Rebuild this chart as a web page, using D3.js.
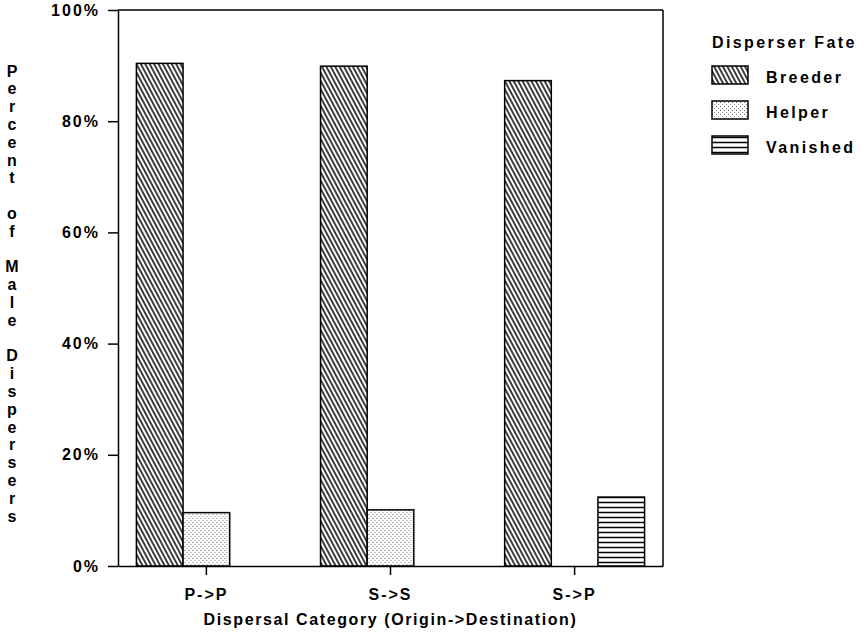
<!DOCTYPE html>
<html>
<head>
<meta charset="utf-8">
<script src="https://cdn.jsdelivr.net/npm/d3@7"></script>
<style>
  body { margin: 0; background: #fff; }
  text { font-family: "Liberation Sans", Arial, Helvetica, sans-serif; font-weight: bold; fill: #000; }
</style>
</head>
<body>
<div id="chart"></div>
<script>
// values (percent of male dispersers)
var categories = ["P->P", "S->S", "S->P"];
var fates = ["Breeder", "Helper", "Vanished"];
var breeder = [90.4, 89.9, 87.3];
var helper = [9.6, 10.1, 0];
var vanished = [0, 0, 12.4];
var yTicks = [0, 20, 40, 60, 80, 100];

var width = 868, height = 635;
var margin = {top: 10, right: 205, bottom: 69, left: 118};
var w = width - margin.left - margin.right;
var h = height - margin.top - margin.bottom;

var svg = d3.select("#chart").append("svg")
    .attr("width", width)
    .attr("height", height);

// hatch patterns
var defs = svg.append("defs");

var pBreeder = defs.append("pattern")
    .attr("id", "pat-breeder")
    .attr("patternUnits", "userSpaceOnUse")
    .attr("width", 3.9)
    .attr("height", 10)
    .attr("patternTransform", "rotate(-28)");
pBreeder.append("rect").attr("width", 3.9).attr("height", 10).attr("fill", "#fff");
pBreeder.append("line")
    .attr("x1", 1.95).attr("y1", -1).attr("x2", 1.95).attr("y2", 11)
    .attr("stroke", "#000").attr("stroke-width", 1.5);

var pHelper = defs.append("pattern")
    .attr("id", "pat-helper")
    .attr("patternUnits", "userSpaceOnUse")
    .attr("width", 4)
    .attr("height", 4);
pHelper.append("rect").attr("width", 4).attr("height", 4).attr("fill", "#fff");
pHelper.append("rect").attr("x", 0).attr("y", 0).attr("width", 1).attr("height", 1).attr("fill", "#666");
pHelper.append("rect").attr("x", 2).attr("y", 2).attr("width", 1).attr("height", 1).attr("fill", "#888");

var pVanished = defs.append("pattern")
    .attr("id", "pat-vanished")
    .attr("patternUnits", "userSpaceOnUse")
    .attr("width", 10)
    .attr("height", 5);
pVanished.append("rect").attr("width", 10).attr("height", 5).attr("fill", "#fff");
pVanished.append("line")
    .attr("x1", -1).attr("y1", 2.5).attr("x2", 11).attr("y2", 2.5)
    .attr("stroke", "#000").attr("stroke-width", 1.5);

var fill = d3.scaleOrdinal()
    .domain(fates)
    .range(["url(#pat-breeder)", "url(#pat-helper)", "url(#pat-vanished)"]);

var g = svg.append("g")
    .attr("transform", "translate(" + margin.left + "," + margin.top + ")");

var x0 = d3.scaleBand()
    .domain(categories)
    .range([0, w])
    .paddingInner(0.24)
    .paddingOuter(0.1);

var x1 = d3.scaleBand()
    .domain(fates)
    .range([0, x0.bandwidth()]);

var y = d3.scaleLinear()
    .domain([0, 100])
    .range([h, 0]);

// rows for grouped bars
var rows = categories.map(function(c, i) {
    return {cat: c, values: [
        {fate: "Breeder", v: breeder[i]},
        {fate: "Helper", v: helper[i]},
        {fate: "Vanished", v: vanished[i]}
    ]};
});

// frame: top and right sides
g.append("line")
    .attr("x1", 0).attr("x2", w).attr("y1", 0).attr("y2", 0)
    .attr("stroke", "#000").attr("stroke-width", 1.5);
g.append("line")
    .attr("x1", w).attr("x2", w).attr("y1", 0).attr("y2", h)
    .attr("stroke", "#000").attr("stroke-width", 1.5);

// bars
var groups = g.selectAll(".grp")
    .data(rows)
    .enter().append("g")
    .attr("class", "grp")
    .attr("transform", function(d) { return "translate(" + x0(d.cat) + ",0)"; });

groups.selectAll("rect")
    .data(function(d) { return d.values.filter(function(o) { return o.v > 0; }); })
    .enter().append("rect")
    .attr("x", function(d) { return x1(d.fate); })
    .attr("y", function(d) { return y(d.v); })
    .attr("width", x1.bandwidth())
    .attr("height", function(d) { return h - y(d.v); })
    .attr("fill", function(d) { return fill(d.fate); })
    .attr("stroke", "#000")
    .attr("stroke-width", 1.5);

// axes
var yAxis = g.append("g")
    .call(d3.axisLeft(y)
        .tickValues(yTicks)
        .tickFormat(function(d) { return d + "%"; })
        .tickSize(10)
        .tickSizeOuter(0)
        .tickPadding(8));

var xAxis = g.append("g")
    .attr("transform", "translate(0," + h + ")")
    .call(d3.axisBottom(x0)
        .tickSize(9)
        .tickSizeOuter(0)
        .tickPadding(14));

[yAxis, xAxis].forEach(function(a) {
    a.select(".domain").attr("stroke", "#000").attr("stroke-width", 1.5);
    a.selectAll(".tick line").attr("stroke", "#000").attr("stroke-width", 1.5);
    a.selectAll(".tick text")
        .style("font-family", "'Liberation Sans', Arial, sans-serif")
        .style("font-weight", "bold")
        .style("font-size", "16px")
        .style("letter-spacing", "2px")
        .attr("fill", "#000");
});

// x axis title
g.append("text")
    .attr("x", w / 2)
    .attr("y", h + 59)
    .attr("text-anchor", "middle")
    .style("font-size", "16px")
    .style("letter-spacing", "1.6px")
    .text("Dispersal Category (Origin->Destination)");

// y axis title, one letter per line
var yTitle = "Percent of Male Dispersers".split("");
svg.append("g").selectAll("text")
    .data(yTitle)
    .enter().append("text")
    .attr("x", 12)
    .attr("y", function(d, i) { return 71 + i * 17.8; })
    .attr("text-anchor", "middle")
    .attr("dominant-baseline", "central")
    .style("font-size", "16px")
    .text(function(d) { return d; });

// legend
var legend = svg.append("g")
    .attr("transform", "translate(712,42)");

legend.append("text")
    .attr("x", 0)
    .attr("y", 0)
    .attr("dominant-baseline", "central")
    .style("font-size", "16px")
    .style("letter-spacing", "2.4px")
    .text("Disperser Fate");

var item = legend.selectAll(".item")
    .data(fates)
    .enter().append("g")
    .attr("class", "item")
    .attr("transform", function(d, i) { return "translate(0," + (33 + i * 35) + ")"; });

item.append("rect")
    .attr("x", 0)
    .attr("y", -9)
    .attr("width", 36)
    .attr("height", 18)
    .attr("fill", function(d) { return fill(d); })
    .attr("stroke", "#000")
    .attr("stroke-width", 1.5);

item.append("text")
    .attr("x", 54)
    .attr("y", 2)
    .attr("dominant-baseline", "central")
    .style("font-size", "16px")
    .style("letter-spacing", "2.4px")
    .text(function(d) { return d; });
</script>
</body>
</html>
